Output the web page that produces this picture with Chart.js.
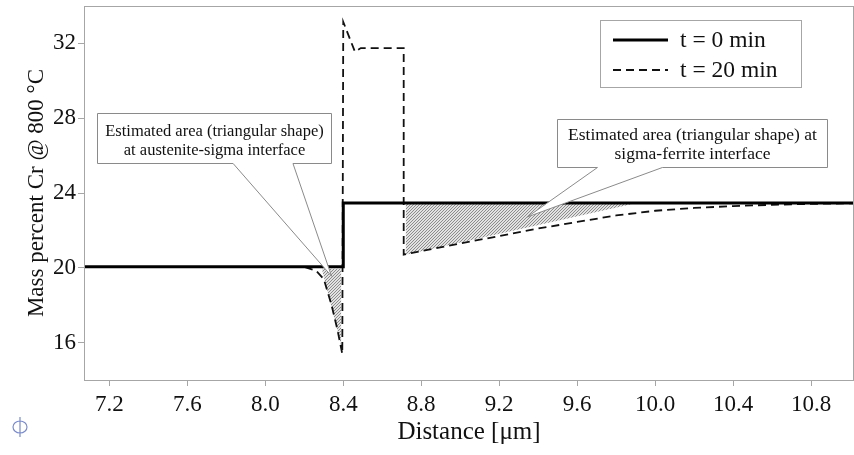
<!DOCTYPE html>
<html>
<head>
<meta charset="utf-8">
<script src="https://cdn.jsdelivr.net/npm/chart.js@4.4.0/dist/chart.umd.min.js"></script>
<style>
html, body { margin: 0; padding: 0; background: #fff; }
#wrap { width: 854px; height: 455px; }
</style>
</head>
<body>
<div id="wrap"><canvas id="grafico" width="854" height="455"></canvas></div>
<script>
// perfil t = 0 min
const xInicial = [7.07, 8.4, 8.4, 11.02];
const yInicial = [20.05, 20.05, 23.47, 23.47];

// perfil t = 20 min
const xFinal = [7.07, 8.2, 8.26, 8.3, 8.34, 8.37, 8.395, 8.4, 8.46, 8.49, 8.71, 8.71, 8.8, 9.0, 9.2, 9.4, 9.6, 9.8, 10.0, 10.2, 10.4, 10.6, 10.8, 11.02];
const yFinal = [20.05, 20.05, 19.85, 19.4, 18.0, 16.7, 15.4, 33.15, 31.55, 31.75, 31.75, 20.7, 20.9, 21.3, 21.7, 22.1, 22.45, 22.8, 23.05, 23.2, 23.3, 23.37, 23.42, 23.45];

// areas estimadas (triangulos)
const xAreaAust = [8.29, 8.39];
const yAreaAust = [19.95, 15.8];
const topoAreaAust = 19.95;
const xAreaFerr = [8.72, 9.9];
const yAreaFerr = [20.7, 23.45];
const topoAreaFerr = 23.45;

const xTicks = [7.2, 7.6, 8.0, 8.4, 8.8, 9.2, 9.6, 10.0, 10.4, 10.8];
const yTicks = [16, 20, 24, 28, 32];

const fonte = "'Liberation Serif', 'Times New Roman', serif";
const cinza = '#a6a6a6';

function pontos(xs, ys) {
    return xs.map((x, i) => ({ x: x, y: ys[i] }));
}

// textura hachurada
function hachura() {
    const c = document.createElement('canvas');
    c.width = 3; c.height = 3;
    const g = c.getContext('2d');
    g.fillStyle = '#e2e2e2';
    g.fillRect(0, 0, 3, 3);
    g.fillStyle = '#8c8c8c';
    g.fillRect(2, 0, 1, 1);
    g.fillRect(1, 1, 1, 1);
    g.fillRect(0, 2, 1, 1);
    return g.createPattern(c, 'repeat');
}

const padrao = hachura();

// caixas de comentario (coordenadas em unidades dos eixos)
const caixas = [
    { x1: 7.139, x2: 8.337, y1: 28.27, y2: 25.6, b1: 7.835, b2: 8.142, px: 8.34, py: 19.55, tam: 16.5, dy: 18,
      linhas: ['Estimated area (triangular shape)', 'at austenite-sigma interface'] },
    { x1: 9.494, x2: 10.88, y1: 27.95, y2: 25.39, b1: 9.704, b2: 10.037, px: 9.345, py: 22.72, tam: 17.5, dy: 16,
      linhas: ['Estimated area (triangular shape) at', 'sigma-ferrite interface'] }
];

const pluginExtras = {
    id: 'extras',
    afterDatasetsDraw(chart) {
        const ctx = chart.ctx;
        const sx = chart.scales.x, sy = chart.scales.y;
        const a = chart.chartArea;
        ctx.save();
        // moldura
        ctx.strokeStyle = cinza;
        ctx.lineWidth = 1;
        ctx.strokeRect(a.left + 0.5, a.top + 0.5, a.right - a.left - 1, a.bottom - a.top);

        // caixas com seta
        caixas.forEach(function (c) {
            const L = Math.round(sx.getPixelForValue(c.x1)) + 0.5;
            const R = Math.round(sx.getPixelForValue(c.x2)) + 0.5;
            const T = Math.round(sy.getPixelForValue(c.y1)) + 0.5;
            const B = Math.round(sy.getPixelForValue(c.y2)) + 0.5;
            const b1 = sx.getPixelForValue(c.b1), b2 = sx.getPixelForValue(c.b2);
            const px = sx.getPixelForValue(c.px), py = sy.getPixelForValue(c.py);
            ctx.beginPath();
            ctx.moveTo(L, T);
            ctx.lineTo(R, T);
            ctx.lineTo(R, B);
            ctx.lineTo(b2, B);
            ctx.lineTo(px, py);
            ctx.lineTo(b1, B);
            ctx.lineTo(L, B);
            ctx.closePath();
            ctx.fillStyle = '#fff';
            ctx.fill();
            ctx.strokeStyle = '#8a8a8a';
            ctx.lineWidth = 1;
            ctx.stroke();
            ctx.fillStyle = '#111';
            ctx.font = c.tam + 'px ' + fonte;
            ctx.textAlign = 'center';
            ctx.textBaseline = 'middle';
            const meio = (L + R) / 2;
            ctx.fillText(c.linhas[0], meio, T + c.dy);
            ctx.fillText(c.linhas[1], meio, T + c.dy + 19);
        });

        // legenda
        const lx = 600.5, ly = 20.5, lw = 201, lh = 67;
        ctx.fillStyle = '#fff';
        ctx.fillRect(lx, ly, lw, lh);
        ctx.strokeStyle = cinza;
        ctx.strokeRect(lx, ly, lw, lh);
        const itens = chart.data.datasets.filter(d => d.legenda);
        itens.forEach(function (d, i) {
            const y = 40 + i * 30;
            ctx.beginPath();
            ctx.strokeStyle = d.borderColor;
            ctx.lineWidth = d.borderWidth;
            ctx.setLineDash(d.borderDash || []);
            ctx.moveTo(613, y);
            ctx.lineTo(668, y);
            ctx.stroke();
            ctx.setLineDash([]);
            ctx.fillStyle = '#111';
            ctx.font = '23.5px ' + fonte;
            ctx.textAlign = 'left';
            ctx.textBaseline = 'middle';
            ctx.fillText(d.label, 680, y + 1);
        });

        // logotipo
        ctx.strokeStyle = '#7b8ccb';
        ctx.lineWidth = 1.2;
        ctx.beginPath();
        ctx.ellipse(20, 427, 7, 6, 0, 0, Math.PI * 2);
        ctx.moveTo(20, 417);
        ctx.lineTo(20, 437);
        ctx.stroke();
        ctx.restore();
    }
};

const ctx = document.getElementById('grafico');

var meuGrafico = new Chart(ctx, {
    type: 'scatter',
    data: {
        datasets: [
            {
                label: 't = 0 min',
                legenda: true,
                data: pontos(xInicial, yInicial),
                showLine: true,
                borderColor: '#000',
                borderWidth: 3,
                pointRadius: 0,
                fill: false
            },
            {
                label: 't = 20 min',
                legenda: true,
                data: pontos(xFinal, yFinal),
                showLine: true,
                borderColor: '#111',
                borderWidth: 1.8,
                borderDash: [8, 5],
                pointRadius: 0,
                fill: false
            },
            {
                label: 'area austenita-sigma',
                data: pontos(xAreaAust, yAreaAust),
                showLine: true,
                borderWidth: 0,
                borderColor: 'rgba(0,0,0,0)',
                backgroundColor: padrao,
                pointRadius: 0,
                fill: { value: topoAreaAust }
            },
            {
                label: 'area sigma-ferrita',
                data: pontos(xAreaFerr, yAreaFerr),
                showLine: true,
                borderWidth: 0,
                borderColor: 'rgba(0,0,0,0)',
                backgroundColor: padrao,
                pointRadius: 0,
                fill: { value: topoAreaFerr }
            }
        ]
    },
    options: {
        responsive: false,
        animation: false,
        layout: { padding: { top: 6, right: 0, left: 0, bottom: 0 } },
        plugins: {
            legend: { display: false },
            tooltip: { enabled: false }
        },
        scales: {
            x: {
                type: 'linear',
                min: 7.07,
                max: 11.02,
                afterBuildTicks: function (s) { s.ticks = xTicks.map(v => ({ value: v })); },
                afterFit: function (s) { s.height = 75; s.paddingLeft = 0; s.paddingRight = 0; },
                grid: { drawOnChartArea: false, drawTicks: true, tickLength: 6, color: cinza },
                border: { color: cinza },
                ticks: {
                    font: { family: fonte, size: 23 },
                    color: '#111',
                    padding: 5,
                    maxRotation: 0,
                    autoSkip: false,
                    callback: v => Number(v).toFixed(1)
                },
                title: {
                    display: true,
                    text: 'Distance [μm]',
                    font: { family: fonte, size: 25 },
                    color: '#111',
                    padding: { top: 0, bottom: 8 }
                }
            },
            y: {
                min: 14,
                max: 34,
                afterBuildTicks: function (s) { s.ticks = yTicks.map(v => ({ value: v })); },
                afterFit: function (s) { s.width = 84; s.paddingTop = 0; s.paddingBottom = 0; },
                grid: { drawOnChartArea: false, drawTicks: true, tickLength: 6, color: cinza },
                border: { color: cinza },
                ticks: {
                    font: { family: fonte, size: 23 },
                    color: '#111',
                    padding: 2
                },
                title: {
                    display: true,
                    text: 'Mass percent Cr @ 800 °C',
                    font: { family: fonte, size: 23 },
                    color: '#111',
                    padding: { top: 23, bottom: 0 }
                }
            }
        }
    },
    plugins: [pluginExtras]
});
</script>
</body>
</html>
